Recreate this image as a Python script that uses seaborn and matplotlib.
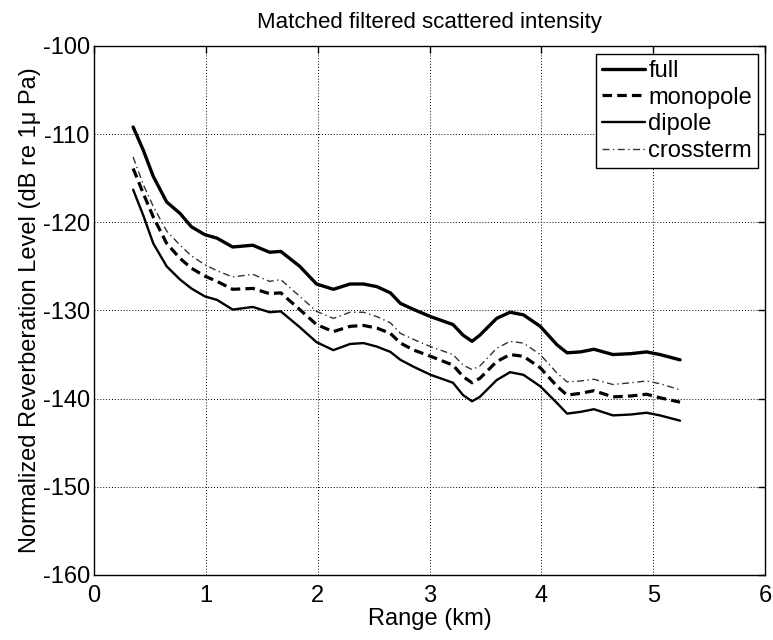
import matplotlib
matplotlib.use("Agg")
import matplotlib.pyplot as plt
import seaborn as sns
import pandas as pd

range_km = [0.35, 0.44, 0.53, 0.65, 0.77, 0.87, 0.99, 1.10, 1.24, 1.42, 1.57, 1.67, 1.84,
            1.99, 2.14, 2.29, 2.41, 2.53, 2.65, 2.74, 2.86, 3.01, 3.21, 3.30, 3.38, 3.45,
            3.60, 3.72, 3.84, 3.99, 4.14, 4.23, 4.35, 4.47, 4.64, 4.80, 4.94, 5.06, 5.24]

full = [-109.2, -111.8, -114.8, -117.7, -119.0, -120.5, -121.4, -121.8, -122.8, -122.6,
        -123.4, -123.3, -125.0, -127.0, -127.6, -127.0, -127.0, -127.3, -128.0, -129.2,
        -129.9, -130.7, -131.6, -132.8, -133.5, -132.8, -130.9, -130.2, -130.5, -131.8,
        -133.9, -134.8, -134.7, -134.4, -135.0, -134.9, -134.7, -135.0, -135.6]

monopole = [-113.9, -116.7, -119.4, -122.4, -124.1, -125.2, -126.1, -126.7, -127.6, -127.5,
            -128.1, -128.0, -129.9, -131.6, -132.4, -131.8, -131.7, -132.0, -132.6, -133.7,
            -134.5, -135.2, -136.2, -137.5, -138.2, -137.7, -135.8, -135.0, -135.2, -136.5,
            -138.6, -139.6, -139.4, -139.1, -139.8, -139.7, -139.5, -139.9, -140.4]

dipole = [-116.3, -119.2, -122.4, -125.0, -126.5, -127.5, -128.4, -128.8, -129.9, -129.6,
          -130.2, -130.1, -131.9, -133.6, -134.5, -133.8, -133.7, -134.1, -134.7, -135.6,
          -136.4, -137.3, -138.2, -139.6, -140.3, -139.8, -137.9, -137.0, -137.3, -138.6,
          -140.5, -141.7, -141.5, -141.2, -141.9, -141.8, -141.6, -141.9, -142.5]

crossterm = [-112.6, -115.7, -118.2, -121.0, -122.6, -123.8, -124.8, -125.5, -126.2, -125.9,
             -126.7, -126.5, -128.4, -130.1, -130.9, -130.2, -130.2, -130.7, -131.4, -132.6,
             -133.3, -134.1, -135.0, -136.2, -136.7, -136.3, -134.3, -133.5, -133.7, -135.0,
             -137.1, -138.1, -138.0, -137.8, -138.4, -138.2, -138.0, -138.3, -139.0]

series_names = ["full", "monopole", "dipole", "crossterm"]
x_ticks = [0, 1, 2, 3, 4, 5, 6]
y_ticks = [-160, -150, -140, -130, -120, -110, -100]

sns.set_style("white")
plt.rcParams["font.family"] = ["Liberation Sans", "DejaVu Sans"]
plt.rcParams["axes.unicode_minus"] = False
plt.rcParams["text.color"] = "black"
plt.rcParams["axes.labelcolor"] = "black"

fig = plt.figure(figsize=(7.73, 6.40), dpi=100)
ax = fig.add_axes([0.1216, 0.1016, 0.8681, 0.8266])

styles = {
    "full": dict(linestyle="-", linewidth=2.4, color="black"),
    "monopole": dict(linestyle=(0, (3.0, 1.6)), linewidth=2.3, color="black"),
    "dipole": dict(linestyle="-", linewidth=1.7, color="black"),
    "crossterm": dict(linestyle=(0, (5, 2.5, 1, 2.5)), linewidth=1.0, color="#333333"),
}
data = {"full": full, "monopole": monopole, "dipole": dipole, "crossterm": crossterm}

for name in series_names:
    df = pd.DataFrame({"Range": range_km, "Level": data[name]})
    sns.lineplot(data=df, x="Range", y="Level", ax=ax, label=name,
                 solid_joinstyle="round", dash_joinstyle="round", **styles[name])

ax.set_xlim(0, 6)
ax.set_ylim(-160, -100)
ax.set_xticks(x_ticks)
ax.set_yticks(y_ticks)
ax.set_xticklabels([str(v) for v in x_ticks])
ax.set_yticklabels([str(v) for v in y_ticks])
ax.grid(True, linestyle=(0, (1, 2)), color="black", linewidth=0.7)
ax.tick_params(axis="both", which="both", direction="in", length=5, width=1,
               top=True, right=True, labelsize=17, colors="black", pad=3)
ax.tick_params(axis="x", pad=7)
for sp in ax.spines.values():
    sp.set_color("black")
    sp.set_linewidth(1.0)
    sp.set_visible(True)

ax.set_xlabel("Range (km)", fontsize=17, labelpad=1)
ax.set_ylabel("Normalized Reverberation Level (dB re 1\u03bc Pa)", fontsize=17, labelpad=1)
ax.set_title("Matched filtered scattered intensity", fontsize=16, pad=13)

leg = ax.legend(loc="upper right", bbox_to_anchor=(0.9896, 0.985), borderaxespad=0,
                fontsize=17, frameon=True, fancybox=False, shadow=False, framealpha=1,
                edgecolor="black", handlelength=1.8, handletextpad=0.15, labelspacing=0.2,
                borderpad=0.25)
leg.get_frame().set_linewidth(1.0)

fig.savefig("out.png", dpi=100)
